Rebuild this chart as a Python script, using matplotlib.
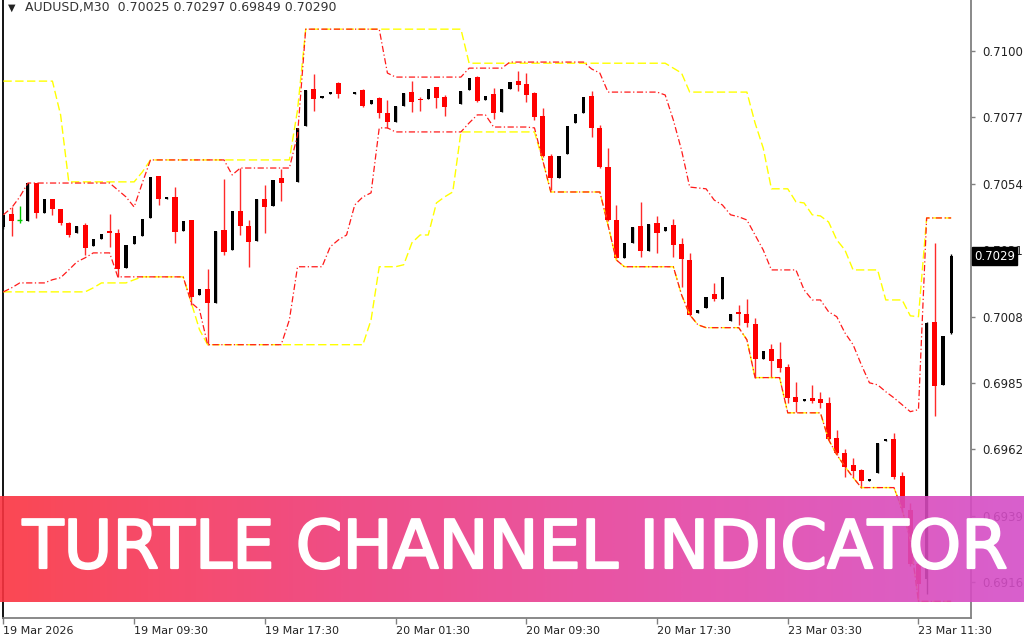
import numpy as np
import matplotlib
matplotlib.use("Agg")
import matplotlib.pyplot as plt
from matplotlib.colors import LinearSegmentedColormap
import matplotlib.transforms as mtransforms
import matplotlib.patheffects as pe

nan = float("nan")

# AUDUSD M30 candles (open, high, low, close), bar by bar
opens = [
    0.70391, 0.70436, 0.70415, 0.70412, 0.70543, 0.70439, 0.70488, 0.70453, 0.70405, 0.70370,
    0.70398, 0.70325, 0.70350, 0.70377, 0.70370, 0.70249, 0.70332, 0.70360, 0.70422, 0.70567,
    0.70488, 0.70495, 0.70377, 0.70415, 0.70156, 0.70177, 0.70128, 0.70381, 0.70311, 0.70446,
    0.70394, 0.70343, 0.70488, 0.70464, 0.70561, nan, 0.70547, 0.70740, 0.70869, 0.70837,
    0.70851, 0.70889, nan, 0.70851, 0.70865, 0.70817, 0.70837, 0.70785, 0.70754, 0.70810,
    0.70858, 0.70834, 0.70834, 0.70875, 0.70841, nan, 0.70817, 0.70865, 0.70910, 0.70830,
    0.70851, 0.70789, 0.70869, 0.70896, 0.70886, 0.70855, 0.70775, 0.70637, 0.70561, 0.70644,
    0.70751, 0.70785, 0.70844, 0.70734, 0.70599, 0.70415, 0.70284, 0.70336, 0.70394, 0.70308,
    0.70405, 0.70377, 0.70398, 0.70332, 0.70277, 0.70093, 0.70111, 0.70159, 0.70142, 0.70066,
    0.70097, 0.70090, 0.70055, 0.69934, 0.69969, 0.69934, 0.69907, 0.69803, 0.69789, 0.69799,
    0.69796, 0.69782, 0.69661, 0.69609, 0.69568, 0.69550, 0.69512, 0.69540, 0.69651, 0.69658,
    0.69529, 0.69412, 0.69222, 0.69170, 0.70062, 0.69844, 0.70025,
]
highs = [
    0.70439, 0.70460, 0.70464, 0.70543, 0.70543, 0.70488, 0.70488, 0.70453, 0.70408, 0.70394,
    0.70405, 0.70350, 0.70367, 0.70436, 0.70384, 0.70329, 0.70360, 0.70419, 0.70564, 0.70567,
    0.70495, 0.70529, 0.70412, 0.70415, 0.70177, 0.70246, 0.70377, 0.70557, 0.70446, 0.70595,
    0.70415, 0.70488, 0.70536, 0.70554, 0.70592, nan, 0.70734, 0.70865, 0.70920, 0.70844,
    0.70858, 0.70893, nan, 0.70858, 0.70869, 0.70830, 0.70841, 0.70830, 0.70810, 0.70855,
    0.70896, 0.70841, 0.70869, 0.70875, 0.70848, nan, 0.70862, 0.70907, 0.70913, 0.70844,
    0.70872, 0.70869, 0.70893, 0.70931, 0.70924, 0.70858, 0.70803, 0.70644, 0.70637, 0.70740,
    0.70782, 0.70841, 0.70862, 0.70744, 0.70664, 0.70467, 0.70336, 0.70391, 0.70478, 0.70401,
    0.70429, 0.70391, 0.70419, 0.70353, 0.70301, 0.70104, 0.70149, 0.70197, 0.70218, 0.70090,
    0.70121, 0.70142, 0.70076, 0.69962, 0.69986, 0.69993, 0.69917, 0.69855, 0.69796, 0.69844,
    0.69820, 0.69803, 0.69689, 0.69620, 0.69592, 0.69554, 0.69519, 0.69644, 0.69654, 0.69678,
    0.69543, 0.69436, 0.69284, 0.70062, 0.70336, 0.70014, 0.70297,
]
lows = [
    0.70384, 0.70360, 0.70405, 0.70412, 0.70422, 0.70439, 0.70433, 0.70398, 0.70356, 0.70370,
    0.70294, 0.70325, 0.70350, 0.70322, 0.70218, 0.70249, 0.70332, 0.70360, 0.70422, 0.70467,
    0.70488, 0.70336, 0.70377, 0.70121, 0.70156, 0.69983, 0.70128, 0.70294, 0.70311, 0.70363,
    0.70253, 0.70343, 0.70370, 0.70464, 0.70481, nan, 0.70547, 0.70740, 0.70792, 0.70837,
    0.70851, 0.70837, nan, 0.70851, 0.70806, 0.70817, 0.70768, 0.70734, 0.70754, 0.70810,
    0.70789, 0.70792, 0.70834, 0.70803, 0.70775, nan, 0.70817, 0.70865, 0.70824, 0.70830,
    0.70765, 0.70789, 0.70869, 0.70862, 0.70824, 0.70761, 0.70633, 0.70519, 0.70561, 0.70644,
    0.70751, 0.70785, 0.70702, 0.70595, 0.70412, 0.70280, 0.70284, 0.70336, 0.70287, 0.70308,
    0.70301, 0.70377, 0.70287, 0.70183, 0.70083, 0.70093, 0.70111, 0.70135, 0.70142, 0.70066,
    0.70052, 0.70045, 0.69869, 0.69934, 0.69872, 0.69889, 0.69782, 0.69751, 0.69789, 0.69782,
    0.69765, 0.69654, 0.69602, 0.69526, 0.69523, 0.69488, 0.69512, 0.69540, 0.69651, 0.69519,
    0.69405, 0.69215, 0.69094, 0.69118, 0.69737, 0.69844, 0.70020,
]
closes = [
    0.70433, 0.70412, 0.70415, 0.70543, 0.70439, 0.70488, 0.70453, 0.70405, 0.70363, 0.70394,
    0.70318, 0.70350, 0.70367, 0.70370, 0.70246, 0.70329, 0.70360, 0.70419, 0.70564, 0.70488,
    0.70495, 0.70374, 0.70412, 0.70149, 0.70177, 0.70128, 0.70377, 0.70305, 0.70446, 0.70394,
    0.70339, 0.70488, 0.70460, 0.70554, 0.70543, nan, 0.70734, 0.70865, 0.70834, 0.70844,
    0.70858, 0.70851, nan, 0.70858, 0.70810, 0.70830, 0.70785, 0.70754, 0.70810, 0.70855,
    0.70824, 0.70830, 0.70869, 0.70837, 0.70806, nan, 0.70862, 0.70907, 0.70827, 0.70844,
    0.70785, 0.70869, 0.70893, 0.70882, 0.70848, 0.70772, 0.70637, 0.70561, 0.70637, 0.70740,
    0.70782, 0.70841, 0.70734, 0.70599, 0.70415, 0.70284, 0.70336, 0.70391, 0.70308, 0.70401,
    0.70370, 0.70391, 0.70329, 0.70280, 0.70087, 0.70104, 0.70149, 0.70142, 0.70218, 0.70090,
    0.70090, 0.70059, 0.69934, 0.69962, 0.69927, 0.69903, 0.69799, 0.69786, 0.69796, 0.69789,
    0.69782, 0.69658, 0.69609, 0.69561, 0.69547, 0.69512, 0.69519, 0.69644, 0.69654, 0.69523,
    0.69419, 0.69222, 0.69153, 0.70059, 0.69841, 0.70014, 0.70290,
]

# turtle channel: outer (yellow) and inner (red) bands
outer_upper = [
    0.70896, 0.70896, 0.70896, 0.70896, 0.70896, 0.70896, 0.70896, 0.70779, 0.70547, 0.70547,
    0.70547, 0.70547, 0.70547, 0.70547, 0.70547, 0.70547, 0.70547, 0.70581, 0.70623, 0.70623,
    0.70623, 0.70623, 0.70623, 0.70623, 0.70623, 0.70623, 0.70623, 0.70623, 0.70623, 0.70623,
    0.70623, 0.70623, 0.70623, 0.70623, 0.70623, 0.70623, 0.70796, 0.71076, 0.71076, 0.71076,
    0.71076, 0.71076, 0.71076, 0.71076, 0.71076, 0.71076, 0.71076, 0.71076, 0.71076, 0.71076,
    0.71076, 0.71076, 0.71076, 0.71076, 0.71076, 0.71076, 0.71076, 0.70958, 0.70958, 0.70958,
    0.70958, 0.70958, 0.70958, 0.70958, 0.70958, 0.70958, 0.70958, 0.70958, 0.70958, 0.70958,
    0.70958, 0.70958, 0.70958, 0.70958, 0.70958, 0.70958, 0.70958, 0.70958, 0.70958, 0.70958,
    0.70958, 0.70958, 0.70941, 0.70924, 0.70858, 0.70858, 0.70858, 0.70858, 0.70858, 0.70858,
    0.70858, 0.70858, 0.70751, 0.70664, 0.70523, 0.70523, 0.70523, 0.70478, 0.70474, 0.70433,
    0.70429, 0.70408, 0.70346, 0.70311, 0.70242, 0.70242, 0.70242, 0.70242, 0.70138, 0.70138,
    0.70138, 0.70083, 0.70080, 0.70422, 0.70422, 0.70422, 0.70422,
]
outer_lower = [
    0.70166, 0.70166, 0.70166, 0.70166, 0.70166, 0.70166, 0.70166, 0.70166, 0.70166, 0.70166,
    0.70166, 0.70180, 0.70197, 0.70197, 0.70197, 0.70197, 0.70208, 0.70218, 0.70218, 0.70218,
    0.70218, 0.70218, 0.70218, 0.70128, 0.70035, 0.69983, 0.69983, 0.69983, 0.69983, 0.69983,
    0.69983, 0.69983, 0.69983, 0.69983, 0.69983, 0.69983, 0.69983, 0.69983, 0.69983, 0.69983,
    0.69983, 0.69983, 0.69983, 0.69983, 0.69983, 0.70069, 0.70253, 0.70253, 0.70253, 0.70260,
    0.70336, 0.70363, 0.70363, 0.70474, 0.70495, 0.70512, 0.70720, 0.70720, 0.70720, 0.70720,
    0.70720, 0.70720, 0.70720, 0.70720, 0.70720, 0.70720, 0.70623, 0.70512, 0.70512, 0.70512,
    0.70512, 0.70512, 0.70512, 0.70512, 0.70398, 0.70277, 0.70253, 0.70253, 0.70253, 0.70253,
    0.70253, 0.70253, 0.70253, 0.70156, 0.70087, 0.70052, 0.70042, 0.70042, 0.70042, 0.70042,
    0.70042, 0.70000, 0.69869, 0.69869, 0.69869, 0.69869, 0.69747, 0.69747, 0.69747, 0.69747,
    0.69747, 0.69654, 0.69602, 0.69561, 0.69523, 0.69488, 0.69488, 0.69488, 0.69488, 0.69488,
    0.69412, 0.69308, 0.69094, 0.69094, 0.69094, 0.69094, 0.69094,
]
inner_upper = [
    0.70433, 0.70457, 0.70495, 0.70543, 0.70543, 0.70543, 0.70543, 0.70543, 0.70543, 0.70543,
    0.70543, 0.70543, 0.70543, 0.70543, 0.70519, 0.70495, 0.70460, 0.70543, 0.70623, 0.70623,
    0.70623, 0.70623, 0.70623, 0.70623, 0.70623, 0.70623, 0.70623, 0.70623, 0.70571, 0.70595,
    0.70595, 0.70595, 0.70595, 0.70595, 0.70595, 0.70595, 0.70709, 0.71076, 0.71076, 0.71076,
    0.71076, 0.71076, 0.71076, 0.71076, 0.71076, 0.71076, 0.71076, 0.70924, 0.70910, 0.70910,
    0.70910, 0.70910, 0.70910, 0.70910, 0.70910, 0.70910, 0.70910, 0.70941, 0.70941, 0.70941,
    0.70941, 0.70941, 0.70962, 0.70962, 0.70962, 0.70962, 0.70962, 0.70962, 0.70962, 0.70962,
    0.70962, 0.70962, 0.70938, 0.70924, 0.70858, 0.70858, 0.70858, 0.70858, 0.70858, 0.70858,
    0.70858, 0.70848, 0.70761, 0.70657, 0.70529, 0.70526, 0.70523, 0.70484, 0.70467, 0.70433,
    0.70426, 0.70415, 0.70363, 0.70311, 0.70242, 0.70242, 0.70242, 0.70242, 0.70173, 0.70138,
    0.70138, 0.70097, 0.70080, 0.70024, 0.69983, 0.69914, 0.69851, 0.69844, 0.69820, 0.69799,
    0.69775, 0.69751, 0.69758, 0.70422, 0.70422, 0.70422, 0.70422,
]
inner_lower = [
    0.70166, 0.70180, 0.70197, 0.70197, 0.70197, 0.70197, 0.70208, 0.70215, 0.70242, 0.70270,
    0.70284, 0.70301, 0.70301, 0.70301, 0.70218, 0.70218, 0.70218, 0.70218, 0.70218, 0.70218,
    0.70218, 0.70218, 0.70218, 0.70128, 0.70104, 0.69983, 0.69983, 0.69983, 0.69983, 0.69983,
    0.69983, 0.69983, 0.69983, 0.69983, 0.69983, 0.70069, 0.70253, 0.70253, 0.70253, 0.70253,
    0.70322, 0.70346, 0.70363, 0.70467, 0.70495, 0.70509, 0.70734, 0.70734, 0.70720, 0.70720,
    0.70720, 0.70720, 0.70720, 0.70720, 0.70720, 0.70720, 0.70720, 0.70751, 0.70779, 0.70779,
    0.70737, 0.70737, 0.70737, 0.70737, 0.70737, 0.70734, 0.70623, 0.70512, 0.70512, 0.70512,
    0.70512, 0.70512, 0.70512, 0.70512, 0.70398, 0.70277, 0.70253, 0.70253, 0.70253, 0.70253,
    0.70253, 0.70253, 0.70253, 0.70156, 0.70087, 0.70052, 0.70042, 0.70042, 0.70042, 0.70042,
    0.70042, 0.70000, 0.69869, 0.69869, 0.69869, 0.69869, 0.69747, 0.69747, 0.69747, 0.69747,
    0.69747, 0.69654, 0.69602, 0.69561, 0.69523, 0.69488, 0.69488, 0.69488, 0.69488, 0.69488,
    0.69412, 0.69308, 0.69094, 0.69094, 0.69094, 0.69094, 0.69094,
]

price_ticks = [0.6916, 0.6939, 0.6962, 0.6985, 0.7008, 0.7031, 0.7054, 0.7077, 0.7100]
time_ticks = [0, 16, 32, 48, 64, 80, 96, 112]
time_labels = ["19 Mar 2026", "19 Mar 09:30", "19 Mar 17:30", "20 Mar 01:30",
               "20 Mar 09:30", "20 Mar 17:30", "23 Mar 03:30", "23 Mar 11:30"]
last_price = 0.70290
header = "AUDUSD,M30  0.70025 0.70297 0.69849 0.70290"
banner_text = "TURTLE CHANNEL INDICATOR"

W, H = 1024, 640
fig = plt.figure(figsize=(W / 100, H / 100), dpi=100)
fig.patch.set_facecolor("white")

ax = fig.add_axes([3 / W, 22 / H, 968 / W, 618 / H])
ax.set_facecolor("white")

o = np.array(opens)
hi = np.array(highs)
lo = np.array(lows)
c = np.array(closes)
x = np.arange(len(o))
ok = ~np.isnan(o)

doji = ok & (o == c)
bull = ok & (c > o)
bear = ok & (c < o)

# wicks
ax.vlines(x[bull], lo[bull], hi[bull], color="black", lw=1.0, zorder=2)
ax.vlines(x[bear], lo[bear], hi[bear], color="#ff2a2a", lw=1.0, zorder=2)
ax.vlines(x[doji], lo[doji], hi[doji], color="#00c800", lw=1.0, zorder=2)

# bodies
minh = 0.00005
body_b = np.maximum(np.abs(c - o), minh)
ax.bar(x[bull], body_b[bull], bottom=np.minimum(o, c)[bull], width=0.38,
       color="black", linewidth=0, zorder=3)
ax.bar(x[bear], body_b[bear], bottom=np.minimum(o, c)[bear], width=0.62,
       color="#ff0000", linewidth=0, zorder=3)
ax.hlines(c[doji], x[doji] - 0.3, x[doji] + 0.3, color="#00c800", lw=1.0, zorder=3)

# channel lines
ax.plot(x, outer_upper, color="#ffff00", lw=1.0, dashes=(6, 2.5), zorder=4)
ax.plot(x, outer_lower, color="#ffff00", lw=1.0, dashes=(6, 2.5), zorder=4)
ax.plot(x, inner_upper, color="#ff1a1a", lw=0.9, dashes=(5, 2, 1, 2), zorder=5)
ax.plot(x, inner_lower, color="#ff1a1a", lw=0.9, dashes=(5, 2, 1, 2), zorder=5)

ax.set_xlim(-0.05, 118.43)
ax.set_ylim(0.690363, 0.711770)

ax.spines["top"].set_visible(False)
ax.spines["left"].set_color("black")
ax.spines["left"].set_linewidth(1.3)
ax.spines["right"].set_color("#808080")
ax.spines["right"].set_linewidth(1.3)
ax.spines["bottom"].set_color("#808080")
ax.spines["bottom"].set_linewidth(1.3)

ax.set_yticks(price_ticks)
ax.set_yticklabels(["%.4f" % v for v in price_ticks])
ax.tick_params(axis="y", left=False, labelleft=False, right=True, labelright=True,
               direction="out", length=3, width=1, color="#808080",
               labelsize=8.5, labelcolor="#222222", pad=5)
ax.set_xticks(time_ticks)
ax.set_xticklabels(time_labels)
for lab in ax.get_xticklabels():
    lab.set_horizontalalignment("left")
ax.tick_params(axis="x", direction="out", length=4, width=1, color="#808080",
               labelsize=8, labelcolor="#222222", pad=1.5)

# current price box on the price scale
trans = mtransforms.blended_transform_factory(ax.transAxes, ax.transData)
ax.text(1.003, last_price, "%.4f" % last_price, transform=trans, ha="left", va="center",
        color="white", fontsize=8.5, zorder=10, clip_on=False,
        bbox=dict(boxstyle="square,pad=0.2", facecolor="black", edgecolor="black"))

# header
fig.text(8 / W, 1 - 3 / H, "\u25bc", fontsize=7, va="top", ha="left", color="#222222")
fig.text(25 / W, 1 - 1 / H, header, fontsize=9, va="top", ha="left", color="#333333")

# banner
bax = fig.add_axes([0, 38 / H, 1, 106 / H])
grad = LinearSegmentedColormap.from_list(
    "banner", ["#fb3340", "#ee3a78", "#e444a4", "#d44ec8"])
bax.imshow(np.linspace(0, 1, 512)[None, :], cmap=grad, aspect="auto",
           extent=[0, 1, 0, 1], alpha=0.9, interpolation="bilinear")
bax.set_xlim(0, 1)
bax.set_ylim(0, 1)
bax.axis("off")
t = bax.text(515 / W, 34 / 106, banner_text, color="white", fontsize=47,
             ha="center", va="baseline", family="DejaVu Sans",
             path_effects=[pe.withStroke(linewidth=1.6, foreground="white")])
fig.canvas.draw()
bb = t.get_window_extent()
t.set_fontsize(47 * 984 / bb.width)

fig.savefig("out.png", dpi=100)
